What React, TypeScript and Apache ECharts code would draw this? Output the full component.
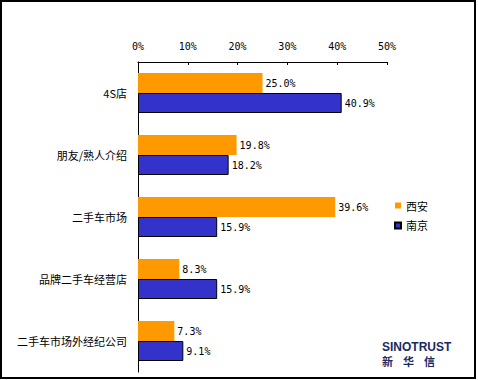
import React, { useEffect, useRef } from "react";
import * as echarts from "echarts";

const categories = ["4S店", "朋友/熟人介绍", "二手车市场", "品牌二手车经营店", "二手车市场外经纪公司"];
const xianValues = [25.0, 19.8, 39.6, 8.3, 7.3];
const nanjingValues = [40.9, 18.2, 15.9, 15.9, 9.1];
const seriesNames = ["西安", "南京"];

export default function App() {
  const ref = useRef<HTMLDivElement>(null);
  useEffect(() => {
    if (!ref.current) return;
    const chart = echarts.init(ref.current, null, { renderer: "svg" });
    const labelStyle = {
      show: true,
      position: "right" as const,
      distance: 3,
      fontFamily: "DejaVu Sans Mono",
      fontSize: 10,
      color: "#000",
      formatter: (p: any) => p.value.toFixed(1) + "%",
    };
    chart.setOption({
      animation: false,
      backgroundColor: "#fff",
      grid: { left: 138, top: 62, width: 249, height: 310 },
      legend: {
        orient: "vertical",
        left: 394,
        top: 200,
        padding: 0,
        itemWidth: 6,
        itemHeight: 6,
        itemGap: 9,
        icon: "rect",
        textStyle: { fontFamily: "Noto Sans CJK SC", fontSize: 11, color: "#000" },
        data: seriesNames,
      },
      xAxis: {
        type: "value",
        position: "top",
        min: 0,
        max: 50,
        interval: 10,
        axisLine: { show: true, lineStyle: { color: "#000", width: 1 } },
        axisTick: { show: true, inside: true, length: 3, lineStyle: { color: "#000" } },
        splitLine: { show: false },
        axisLabel: {
          formatter: "{value}%",
          margin: 11,
          fontFamily: "DejaVu Sans Mono",
          fontSize: 10,
          color: "#000",
        },
      },
      yAxis: {
        type: "category",
        inverse: true,
        data: categories,
        axisLine: { show: true, lineStyle: { color: "#000", width: 1 } },
        axisTick: { show: false },
        axisLabel: {
          margin: 11,
          fontFamily: "Noto Sans CJK SC",
          fontSize: 11,
          color: "#000",
        },
      },
      series: [
        {
          name: seriesNames[0],
          type: "bar",
          data: xianValues,
          barWidth: 20,
          barGap: "0%",
          itemStyle: { color: "#FF9900" },
          label: labelStyle,
        },
        {
          name: seriesNames[1],
          type: "bar",
          data: nanjingValues,
          barWidth: 20,
          barGap: "0%",
          itemStyle: { color: "#3333CC", borderColor: "#000", borderWidth: 1 },
          label: labelStyle,
        },
      ],
      graphic: [
        {
          type: "rect",
          shape: { x: 1, y: 1, width: 474, height: 377 },
          style: { fill: "none", stroke: "#000", lineWidth: 2 },
          silent: true,
        },
        {
          type: "text",
          x: 382,
          y: 341,
          style: {
            text: "SINOTRUST",
            font: "bold 12px Liberation Sans",
            lineHeight: 12,
            fill: "#1c2a5e",
          },
        },
        {
          type: "text",
          x: 382,
          y: 355,
          style: {
            text: "新    华    信",
            font: "bold 11px 'Noto Sans CJK SC'",
            lineHeight: 11,
            fill: "#1c2a5e",
          },
        },
      ],
    });
    return () => chart.dispose();
  }, []);
  return (
    <div
      ref={ref}
      style={{ position: "fixed", left: 0, top: 0, width: 478, height: 380 }}
    />
  );
}
